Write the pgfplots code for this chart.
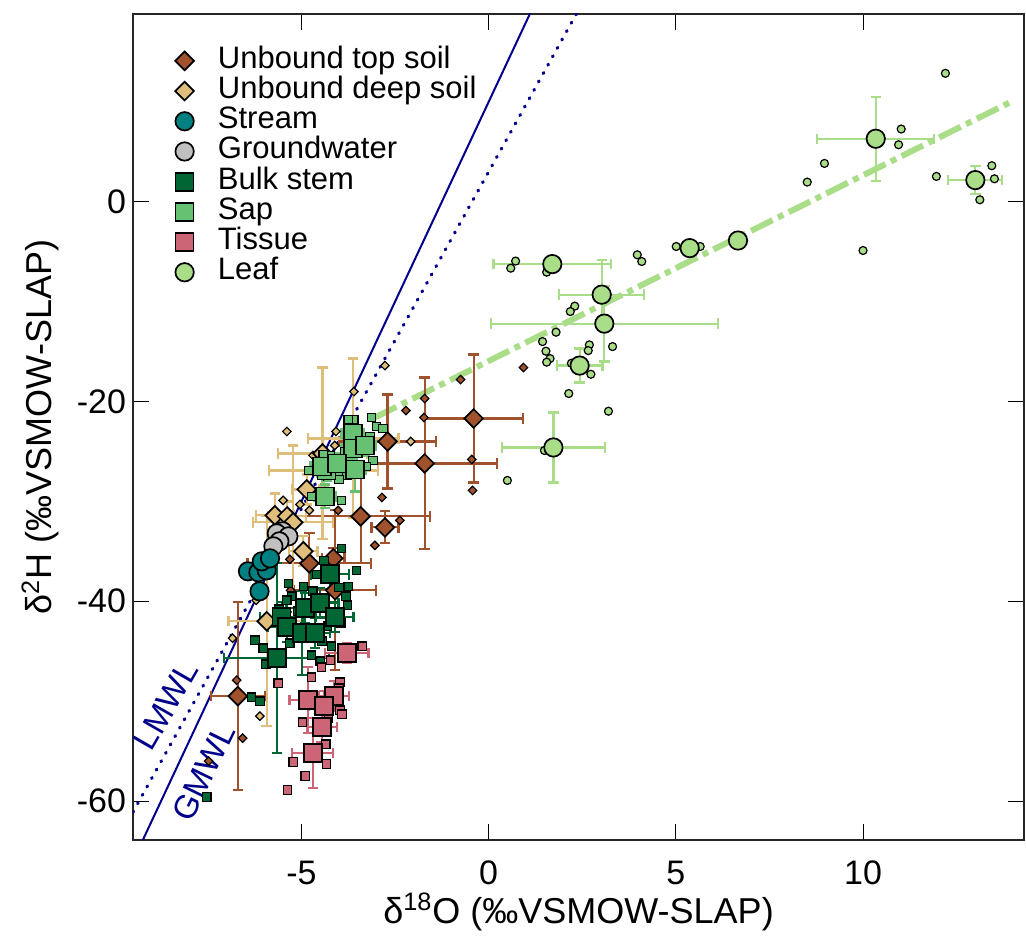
\documentclass[border=0pt]{standalone}
\usepackage{pgfplots}
\pgfplotsset{compat=1.18}
\usepackage{fontspec}
\setmainfont{Liberation Sans}
\definecolor{topsoil}{RGB}{160,82,45}
\definecolor{deepsoil}{RGB}{222,190,122}
\definecolor{stream}{RGB}{0,128,128}
\definecolor{ground}{RGB}{192,192,192}
\definecolor{bulk}{RGB}{0,102,51}
\definecolor{sap}{RGB}{102,194,114}
\definecolor{tissue}{RGB}{204,102,119}
\definecolor{leaf}{RGB}{170,221,136}
\definecolor{mwl}{RGB}{0,0,140}

\pgfplotsset{
  eb/.style={error bars/.cd, x dir=both, x explicit, y dir=both, y explicit,
    error bar style={line width=1.1pt, #1},
    error mark options={rotate=90, line width=1.1pt, mark size=2.6pt, #1}},
  bigdia/.style={only marks, mark=square*, mark size=3.3pt, mark options={rotate=45, fill=#1, draw=black, line width=0.85pt}},
  smalldia/.style={only marks, mark=square*, mark size=1.5pt, mark options={rotate=45, fill=#1, draw=black, line width=0.6pt}},
  bigsq/.style={only marks, mark=square*, mark size=4.5pt, mark options={fill=#1, draw=black, line width=0.85pt}},
  smallsq/.style={only marks, mark=square*, mark size=2.1pt, mark options={fill=#1, draw=black, line width=0.6pt}},
  bigci/.style={only marks, mark=*, mark size=4.6pt, mark options={fill=#1, draw=black, line width=0.85pt}},
  smallci/.style={only marks, mark=*, mark size=2pt, mark options={fill=#1, draw=black, line width=0.6pt}},
}

\begin{document}
\begin{tikzpicture}
\begin{axis}[
  scale only axis, width=445.5pt, height=413pt,
  xmin=-9.5, xmax=14.3, ymin=-63.9, ymax=18.8,
  xtick={-5,0,5,10}, xticklabels={-5,0,5,10},
  ytick={-60,-40,-20,0}, yticklabels={-60,-40,-20,0},
  tick align=inside, major tick length=8pt,
  axis line style={line width=0.6pt, black!85},
  every tick/.style={black, line width=0.5pt},
  ticklabel style={font=\fontsize{17}{17}\selectfont},
  xticklabel style={yshift=-7pt},
  xlabel={δ\textsuperscript{18}O (‰VSMOW-SLAP)},
  ylabel={δ\textsuperscript{2}H (‰VSMOW-SLAP)},
  label style={font=\fontsize{18}{18}\selectfont},
  xlabel style={at={(axis description cs:0.5,-0.087)}, anchor=center},
  ylabel style={at={(axis description cs:-0.104,0.5)}, anchor=center},
  legend cell align=left,
  legend style={draw=none, fill=none, inner sep=0pt, row sep=0pt, column sep=10pt,
    at={(axis description cs:0.047,0.962)}, anchor=north west,
    font=\fontsize{15.5}{15.5}\selectfont,
    nodes={inner ysep=0.3pt, text height=11pt, text depth=3.5pt}},
]
\addlegendimage{bigdia=topsoil}\addlegendentry{Unbound top soil}
\addlegendimage{bigdia=deepsoil}\addlegendentry{Unbound deep soil}
\addlegendimage{bigci=stream}\addlegendentry{Stream}
\addlegendimage{bigci=ground}\addlegendentry{Groundwater}
\addlegendimage{bigsq=bulk}\addlegendentry{Bulk stem}
\addlegendimage{bigsq=sap}\addlegendentry{Sap}
\addlegendimage{bigsq=tissue}\addlegendentry{Tissue}
\addlegendimage{bigci=leaf}\addlegendentry{Leaf}

% water lines
\addplot[forget plot, mwl, line width=1pt] coordinates {(-9.5,-66) (1.2,19.6)};
\addplot[forget plot, mwl, line width=1.6pt, line cap=round, dash pattern=on 0.5pt off 4.3pt] coordinates {(-9.5,-61.1) (2.4,19.2)};
\node[mwl, rotate=60, font=\fontsize{16.5}{16.5}\selectfont] at (axis cs:-8.62,-50.4) {LMWL};
\node[mwl, rotate=64, font=\fontsize{16.5}{16.5}\selectfont] at (axis cs:-7.62,-57.1) {GMWL};
% leaf regression
\addplot[forget plot, leaf, line width=3pt, dash pattern=on 12pt off 3pt on 3pt off 3pt] coordinates {(-3.04,-21.6) (13.95,10.0)};

% unbound top soil
\addplot[forget plot, smalldia=topsoil] table {
x y
0.93 -16.6
-0.75 -17.8
-1.71 -19.7
-1.73 -21.6
-2.21 -20.9
-0.45 -25.8
-0.43 -28.9
-2.85 -29.6
-2.37 -31.9
-3.04 -34.4
-4.02 -30.9
-5.31 -35.8
-5.29 -38.9
-6.73 -47.9
-6.57 -53.7
-7.48 -56.0
};
\addplot[forget plot, bigdia=topsoil, eb=topsoil] table[x=x, y=y, x error=ex, y error=ey] {
x y ex ey
-0.40 -21.7 1.31 6.4
-1.71 -26.2 1.94 8.6
-2.70 -24.0 1.30 4.7
-3.42 -31.5 1.85 4.7
-2.77 -32.6 0.36 1.6
-4.10 -38.9 1.10 8.0
-4.15 -35.7 0.30 1.0
-4.79 -36.2 1.65 3.0
-6.70 -49.5 0.72 9.4
};

% unbound deep soil
\addplot[forget plot, smalldia=deepsoil] table {
x y
-2.77 -16.4
-3.60 -19.0
-5.39 -23.0
-4.08 -23.0
-2.08 -24.0
-4.11 -24.4
-4.69 -25.4
-5.49 -29.9
-5.04 -30.3
-4.79 -30.9
-6.84 -43.7
-6.11 -51.5
-6.21 -39.9
};
\addplot[forget plot, bigdia=deepsoil, eb=deepsoil] table[x=x, y=y, x error=ex, y error=ey] {
x y ex ey
-3.62 -23.7 1.21 8.0
-4.44 -25.2 1.18 8.6
-4.41 -26.9 1.46 1.5
-4.86 -28.8 0.40 1.5
-5.71 -31.4 0.50 2.2
-5.38 -31.5 0.50 1.5
-5.22 -32.1 1.07 7.7
-4.95 -35.0 0.38 1.5
-5.93 -42.0 1.02 10.5
};

% groundwater and stream
\addplot[forget plot, bigci=ground] table {
x y
-5.50 -33.0
-5.66 -33.2
-5.35 -33.5
-5.59 -34.0
-5.75 -34.5
};
\addplot[forget plot, bigci=stream] table {
x y
-6.43 -37.0
-6.15 -37.1
-5.93 -36.9
-6.06 -36.0
-5.84 -35.7
-6.12 -39.0
};

% bulk stem
\addplot[forget plot, smallsq=bulk] table {
x y
-3.93 -34.7
-3.53 -36.9
-3.75 -38.5
-3.81 -39.5
-3.77 -40.4
-5.35 -38.2
-4.95 -38.5
-4.60 -37.3
-4.40 -35.9
-6.24 -43.9
-6.02 -44.7
-5.95 -46.3
-5.31 -44.2
-4.73 -45.4
-5.26 -39.5
-6.33 -49.6
-6.11 -50.0
-7.53 -59.6
-5.39 -39.9
-5.10 -41.0
-4.30 -42.5
-4.20 -44.5
-4.70 -39.0
-4.00 -38.6
-5.60 -40.8
-4.50 -46.0
-4.45 -44.0
-3.95 -42.2
};
\addplot[forget plot, bigsq=bulk, eb=bulk] table[x=x, y=y, x error=ex, y error=ey] {
x y ex ey
-4.24 -37.3 0.50 1.5
-4.90 -40.7 0.50 1.5
-4.51 -40.15 0.50 1.5
-4.11 -41.55 0.50 1.5
-5.53 -41.55 0.57 1.5
-5.39 -42.55 0.50 1.5
-4.99 -43.2 0.40 4.2
-4.64 -43.2 0.40 1.5
-5.66 -45.7 1.40 9.5
};

% tissue
\addplot[forget plot, smallsq=tissue] table {
x y
-3.38 -44.5
-4.22 -45.9
-4.46 -46.6
-4.73 -47.6
-3.97 -48.1
-3.97 -50.9
-4.28 -51.7
-4.97 -52.1
-4.35 -54.3
-4.33 -56.3
-5.22 -56.1
-4.90 -57.5
-5.37 -58.9
-5.62 -48.2
-4.00 -48.7
-3.92 -51.3
};
\addplot[forget plot, bigsq=tissue, eb=tissue] table[x=x, y=y, x error=ex, y error=ey] {
x y ex ey
-3.79 -45.2 0.58 1.0
-4.82 -49.9 0.50 3.3
-4.13 -49.5 0.40 1.5
-4.40 -50.5 0.40 1.5
-4.46 -52.6 0.40 1.5
-4.70 -55.2 0.55 3.5
};

% sap
\addplot[forget plot, smallsq=sap] table {
x y
-3.13 -21.6
-3.00 -22.5
-2.82 -22.7
-3.60 -21.8
-3.09 -25.9
-4.81 -26.9
-4.73 -29.5
-3.93 -29.9
-4.24 -25.4
-4.42 -25.3
-3.79 -27.4
-3.26 -26.5
-3.75 -21.8
-3.17 -23.5
-3.85 -25.0
-4.00 -27.8
};
\addplot[forget plot, bigsq=sap, eb=sap] table[x=x, y=y, x error=ex, y error=ey] {
x y ex ey
-3.63 -23.2 0.30 1.0
-3.63 -24.7 0.30 1.0
-3.30 -24.4 0.30 1.0
-3.57 -26.8 0.30 2.2
-4.33 -26.9 0.30 1.0
-4.46 -26.5 0.30 1.0
-4.06 -26.2 0.30 1.0
-4.37 -29.5 0.30 1.2
};

% leaf
\addplot[forget plot, smallci=leaf] table {
x y
12.20 12.86
11.02 7.28
10.95 5.71
8.97 3.84
8.51 1.97
11.96 2.54
13.44 3.61
13.51 2.30
13.12 0.20
10.00 -4.88
5.01 -4.48
5.65 -4.48
3.97 -5.31
4.09 -5.98
0.72 -5.94
0.59 -6.65
1.55 -7.05
2.30 -10.45
2.18 -10.99
1.80 -13.06
1.44 -14.00
1.53 -14.96
1.64 -15.70
1.55 -16.06
2.69 -14.33
2.66 -14.90
3.31 -14.50
2.73 -17.27
2.21 -16.17
2.14 -19.20
3.20 -20.97
1.49 -24.90
0.50 -27.90
};
\addplot[forget plot, bigci=leaf, eb=leaf] table[x=x, y=y, x error=ex, y error=ey] {
x y ex ey
10.34 6.31 1.56 4.2
13.00 2.17 0.72 1.43
6.66 -3.88 0.0 0.0
5.37 -4.64 0.0 0.0
1.70 -6.24 1.57 0.0
3.02 -9.30 1.14 3.5
3.09 -12.2 3.03 3.8
2.43 -16.4 0.61 1.7
1.73 -24.6 1.38 3.5
};
\end{axis}
\path (current axis.south west) ++(-66.5pt,-46pt) rectangle ++(513pt,466pt);
\end{tikzpicture}
\end{document}
